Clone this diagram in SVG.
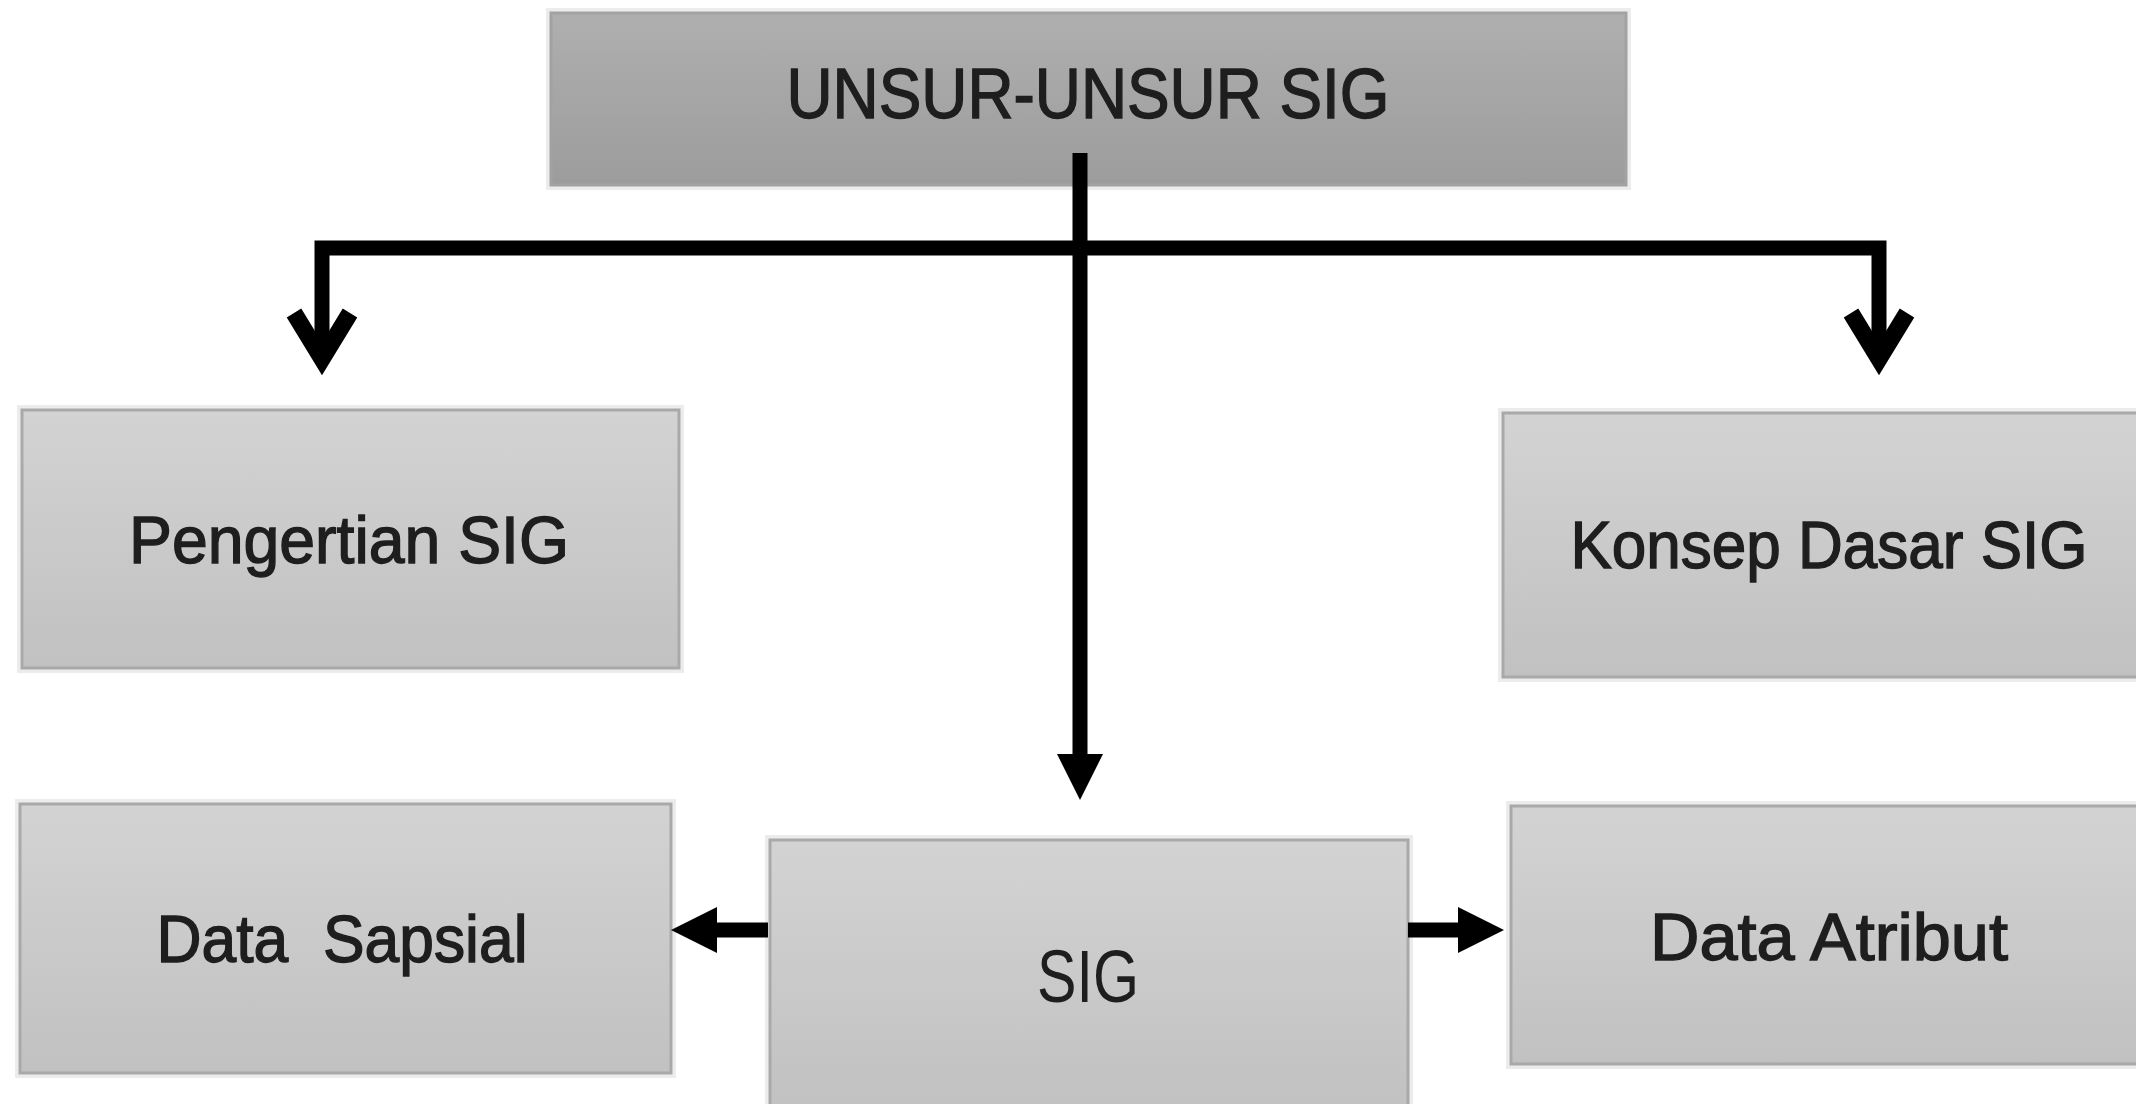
<svg xmlns="http://www.w3.org/2000/svg" width="2136" height="1104" viewBox="0 0 2136 1104">
<style>
.box{fill:url(#gLight);stroke:#a9a9a9;stroke-width:3}
.boxTop{fill:url(#gDark);stroke:#a2a2a2;stroke-width:3}
.halo{fill:none;stroke:#ececec;stroke-width:4}
.lbl{font-family:"Liberation Sans",Arial,sans-serif;fill:#1e1e1e;text-anchor:middle;stroke:#1e1e1e;stroke-width:1.4}
.thin{stroke-width:0}
.conn{fill:none;stroke:#000;stroke-width:15}
</style>
<defs>
<linearGradient id="gLight" x1="0" y1="0" x2="0" y2="1">
<stop offset="0" stop-color="#d3d3d3"/>
<stop offset="1" stop-color="#c1c1c1"/>
</linearGradient>
<linearGradient id="gDark" x1="0" y1="0" x2="0" y2="1">
<stop offset="0" stop-color="#afafaf"/>
<stop offset="1" stop-color="#9c9c9c"/>
</linearGradient>
<marker id="solid" markerUnits="userSpaceOnUse" viewBox="0 0 46 46" refX="0" refY="23" markerWidth="46" markerHeight="46" orient="auto">
<path d="M0,0 L46,23 L0,46 Z" fill="#000"/>
</marker>
<marker id="vopen" markerUnits="userSpaceOnUse" viewBox="-70 -50 100 100" refX="0" refY="0" markerWidth="100" markerHeight="100" orient="auto" overflow="visible">
<path d="M-46,-28 L0,0 L-46,28" fill="none" stroke="#000" stroke-width="17" stroke-linejoin="miter"/>
</marker>
</defs>
<rect width="2136" height="1104" fill="#ffffff"/>

<g id="node-unsur">
<rect class="halo" x="548" y="10" width="1081" height="178"/>
<rect class="boxTop" x="551" y="13" width="1075" height="172"/>
<text class="lbl" x="1088" y="118" font-size="70" textLength="603" lengthAdjust="spacingAndGlyphs">UNSUR-UNSUR SIG</text>
</g>

<g id="node-pengertian">
<rect class="halo" x="19" y="407" width="663" height="264"/>
<rect class="box" x="22" y="410" width="657" height="258"/>
<text class="lbl" x="349" y="563" font-size="67" textLength="440" lengthAdjust="spacingAndGlyphs">Pengertian SIG</text>
</g>

<g id="node-konsep">
<rect class="halo" x="1500" y="410" width="646" height="270"/>
<rect class="box" x="1503" y="413" width="640" height="264"/>
<text class="lbl" x="1829" y="568" font-size="67" textLength="517" lengthAdjust="spacingAndGlyphs">Konsep Dasar SIG</text>
</g>

<g id="node-spasial">
<rect class="halo" x="17" y="801" width="657" height="275"/>
<rect class="box" x="20" y="804" width="651" height="269"/>
<text class="lbl" x="342" y="962" font-size="67" xml:space="preserve" textLength="371" lengthAdjust="spacingAndGlyphs">Data  Sapsial</text>
</g>

<g id="node-sig">
<rect class="halo" x="767" y="837" width="644" height="276"/>
<rect class="box" x="770" y="840" width="638" height="270"/>
<text class="lbl thin" x="1088" y="1002" font-size="74" textLength="102" lengthAdjust="spacingAndGlyphs">SIG</text>
</g>

<g id="node-atribut">
<rect class="halo" x="1508" y="803" width="636" height="264"/>
<rect class="box" x="1511" y="806" width="630" height="258"/>
<text class="lbl" x="1829" y="960" font-size="67" textLength="358" lengthAdjust="spacingAndGlyphs">Data Atribut</text>
</g>

<g id="connectors">
<path class="conn" d="M1080,153 V754" stroke-width="14" marker-end="url(#solid)"/>
<path class="conn" d="M1080,248 H322 V359" marker-end="url(#vopen)"/>
<path class="conn" d="M1080,248 H1879 V359" marker-end="url(#vopen)"/>
<path class="conn" d="M768,930 H717" marker-end="url(#solid)"/>
<path class="conn" d="M1408,930 H1458" marker-end="url(#solid)"/>
</g>
</svg>
